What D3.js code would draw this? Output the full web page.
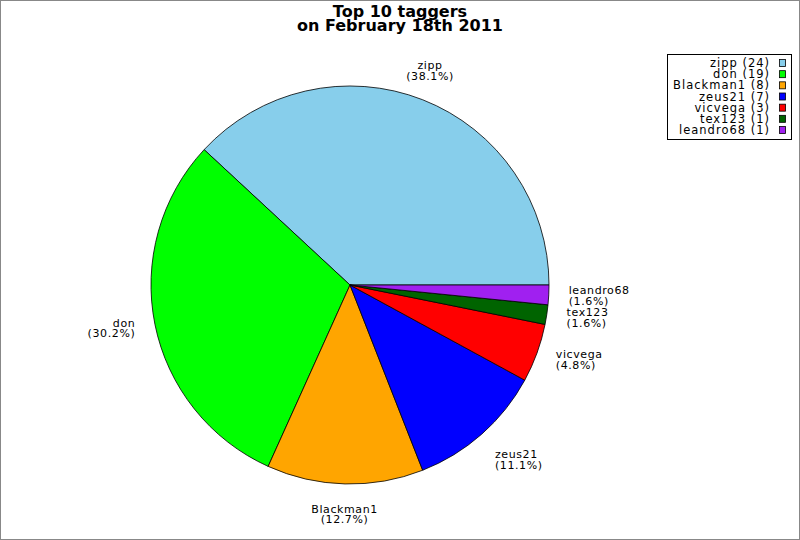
<html>
<head>
  <script src="https://d3js.org/d3.v7.min.js"></script>
  <style>
    body { margin: 0; background: #fff; }
    text { font-family: "DejaVu Sans", sans-serif; }
  </style>
</head>
<body>
  <svg id="pie" width="800" height="540"></svg>
  <script>
    // data
    const names = ["zipp", "don", "Blackman1", "zeus21", "vicvega", "tex123", "leandro68"];
    const counts = [24, 19, 8, 7, 3, 1, 1];
    const colors = ["#87ceeb", "#00ff00", "#ffa500", "#0000ff", "#ff0000", "#006400", "#a020f0"];
    const titleLines = ["Top 10 taggers", "on February 18th 2011"];

    const svg = d3.select("svg#pie");
    const width = +svg.attr("width");
    const height = +svg.attr("height");
    const cx = 350, cy = 285, radius = 199, labelRadius = 219;

    // frame
    svg.append("rect")
      .attr("x", 0.5).attr("y", 0.5)
      .attr("width", width - 1).attr("height", height - 1)
      .attr("fill", "#fff").attr("stroke", "#888");

    // title
    svg.append("text")
      .attr("text-anchor", "middle")
      .style("font-size", "16px")
      .style("font-weight", "bold")
      .selectAll("tspan")
      .data(titleLines)
      .join("tspan")
      .attr("x", width / 2)
      .attr("y", (d, i) => 17 + i * 13.5)
      .text(d => d);

    const total = d3.sum(counts);
    const data = names.map((n, i) => ({ name: n, value: counts[i], color: colors[i] }));

    // slices start at 3 o'clock and go counter-clockwise
    const pie = d3.pie().value(d => d.value).sort(null)
      .startAngle(Math.PI / 2).endAngle(Math.PI / 2 - 2 * Math.PI);
    const arcs = pie(data);
    const arc = d3.arc().innerRadius(0).outerRadius(radius);

    const chart = svg.append("g").attr("transform", `translate(${cx},${cy})`);
    chart.selectAll("path")
      .data(arcs)
      .join("path")
      .attr("d", arc)
      .attr("fill", d => d.data.color)
      .attr("stroke", "#000")
      .attr("stroke-width", 0.8);

    // labels
    const fmt = d3.format(".1f");
    arcs.forEach(a => {
      const mid = (a.startAngle + a.endAngle) / 2; // d3 angle, 0 = 12 o'clock
      const dx = Math.sin(mid), dy = -Math.cos(mid);
      const x = labelRadius * dx, y = labelRadius * dy;
      const anchor = dx > 0.5 ? "start" : dx < -0.5 ? "end" : "middle";
      let top;
      const blockH = 21;
      if (dy < -0.5) top = y - blockH;
      else if (dy > 0.5) top = y;
      else top = y - blockH / 2;
      const t = chart.append("text")
        .attr("text-anchor", anchor)
        .style("font-size", "11px")
        .style("letter-spacing", "0.6px")
        .attr("fill", "#000");
      t.append("tspan").attr("x", x).attr("y", top + 9).text(a.data.name);
      t.append("tspan").attr("x", x).attr("y", top + 19.5)
        .text(`(${fmt(a.data.value / total * 100)}%)`);
    });

    // legend
    const legend = svg.append("g");
    legend.append("rect")
      .attr("x", 667.5).attr("y", 54.5)
      .attr("width", 124).attr("height", 85)
      .attr("fill", "#fff").attr("stroke", "#000");
    const rowY = d3.scaleLinear().domain([0, names.length - 1]).range([63, 130]);
    data.forEach((d, i) => {
      legend.append("text")
        .attr("x", 770).attr("y", rowY(i) + 4)
        .attr("text-anchor", "end")
        .style("font-size", "11.5px")
        .style("letter-spacing", "1px")
        .text(`${d.name} (${d.value})`);
      legend.append("rect")
        .attr("x", 779.5).attr("y", rowY(i) - 3.5)
        .attr("width", 6).attr("height", 7)
        .attr("fill", d.color).attr("stroke", "#000").attr("stroke-width", 0.8);
    });
  </script>
</body>
</html>
